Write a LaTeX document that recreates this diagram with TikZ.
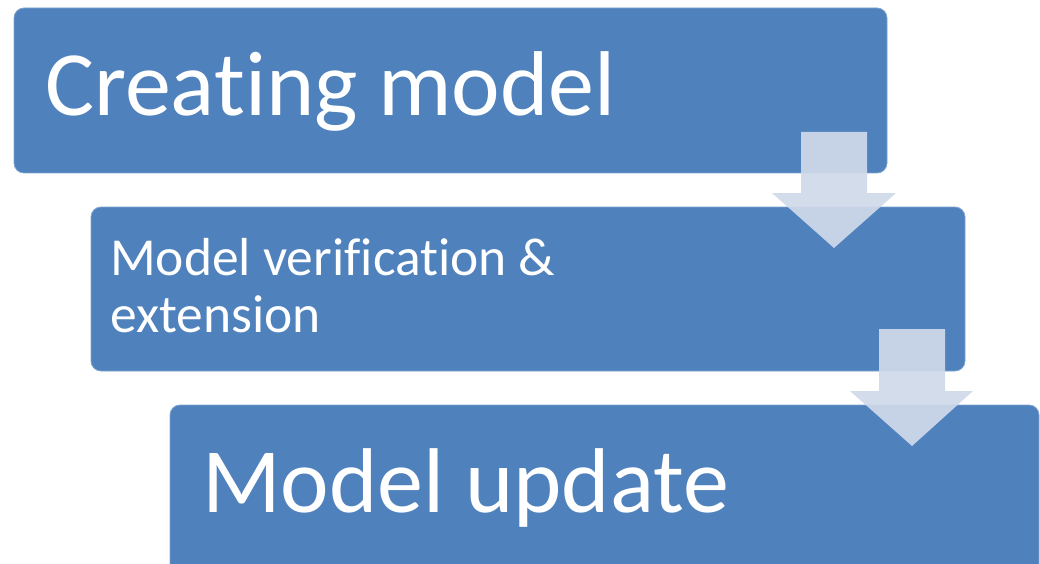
\documentclass[tikz,border=0pt]{standalone}
\usepackage{fontspec}
\setmainfont[Ligatures=NoCommon]{Carlito}
\definecolor{boxblue}{HTML}{4F81BD}
\definecolor{boxedge}{HTML}{7FA3CF}
\definecolor{arrowfill}{RGB}{208,217,233}
\tikzset{
  stepbox/.style={draw=boxedge, line width=0.8pt, fill=boxblue, rounded corners=10pt, inner sep=0pt},
  boxtext/.style={anchor=base west, inner sep=0pt, text=white},
  downarrow/.style={fill=arrowfill, fill opacity=0.93, draw=none}
}
\begin{document}
\begin{tikzpicture}[x=1pt,y=-1pt]
\useasboundingbox (0,0) rectangle (1040,564);
\clip (0,0) rectangle (1040,564);
% boxes
\draw[stepbox] (14,8) rectangle (887,173);
\node[inner sep=0pt] (b1) at (450.5,90.5) {};
\draw[stepbox] (91,207) rectangle (965,371);
\node[inner sep=0pt] (b2) at (528,289) {};
\draw[stepbox] (170,405) rectangle (1039,620);
\node[inner sep=0pt] (b3) at (604.5,512) {};
% texts
\node[boxtext, font=\fontsize{92}{92}\selectfont] (t1) at (45,116) {Creating model};
\node[boxtext, font=\fontsize{53.5}{58}\selectfont] (t2) at (110,275) {Model verification \&};
\node[boxtext, font=\fontsize{53.5}{58}\selectfont] (t2b) at (110,332) {extension};
\node[boxtext, font=\fontsize{92}{92}\selectfont] (t3) at (202,512) {Model update};
% arrows
\coordinate (a1) at (834,132);
\coordinate (a1tip) at (834,248);
\coordinate (a2) at (912,329);
\coordinate (a2tip) at (912,446);
\fill[downarrow] (801,132) -- (867,132) -- (867,193) -- (896,193) -- (a1tip) -- (772,193) -- (801,193) -- cycle;
\fill[downarrow] (879,329) -- (945,329) -- (945,391) -- (973,391) -- (a2tip) -- (850,391) -- (879,391) -- cycle;
\end{tikzpicture}
\end{document}
